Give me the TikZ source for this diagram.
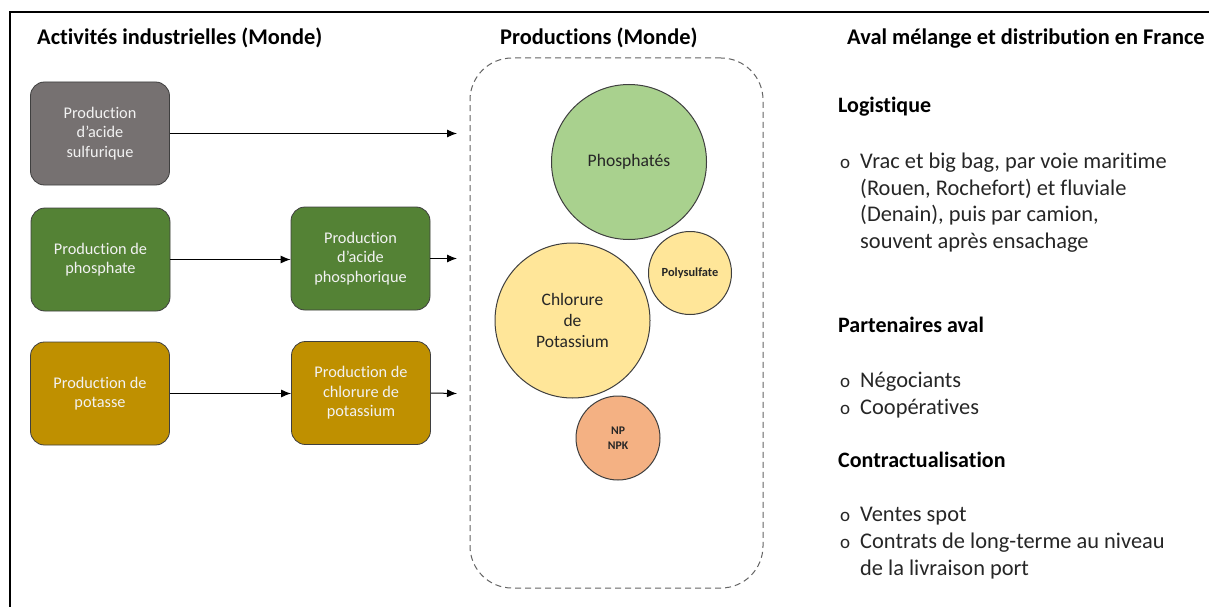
\documentclass[tikz,border=0pt]{standalone}
\usepackage{fontspec}
\setmainfont{Carlito}[Ligatures=NoCommon]
\usetikzlibrary{arrows.meta}
\definecolor{boxgray}{HTML}{767171}
\definecolor{boxgreen}{HTML}{548235}
\definecolor{boxgold}{HTML}{BF9000}
\definecolor{cgreen}{HTML}{A9D18E}
\definecolor{cyellow}{HTML}{FFE699}
\definecolor{corange}{HTML}{F4B183}
\definecolor{outline}{HTML}{3F3F3F}
\definecolor{boxtext}{HTML}{F2F2F2}
\definecolor{bodytext}{HTML}{262626}
\tikzset{
  procbox/.style={rectangle, rounded corners=14pt, draw=outline, line width=0.8pt,
    minimum width=139pt, minimum height=103pt, inner sep=2pt, align=center,
    text=boxtext, font=\fontsize{16.3}{19.5}\selectfont},
  bubble/.style={circle, draw=outline, line width=1pt, inner sep=0pt, align=center, text=bodytext},
  flow/.style={-{Latex[length=10pt,width=8pt]}, line width=1pt, black},
  title/.style={anchor=base west, inner sep=0pt, font=\fontsize{22.4}{26}\selectfont\bfseries, text=black},
  heading/.style={anchor=base west, inner sep=0pt, font=\fontsize{22}{26}\selectfont\bfseries, text=black},
  body/.style={anchor=base west, inner sep=0pt, font=\fontsize{22.4}{27}\selectfont, text=bodytext},
  bullet/.style={anchor=base west, inner sep=0pt, font=\fontsize{19}{27}\selectfont, text=bodytext},
}
\begin{document}
\begin{tikzpicture}[x=1pt,y=-1pt]
\useasboundingbox (0,0) rectangle (1209,607);
\fill[white] (0,0) rectangle (1209,607);
% frame
\draw[line width=2pt] (1209,12) -- (10,12) -- (10,607);

% titles
\node[title] (t1) at (37,45) {Activités industrielles (Monde)};
\node[title] (t2) at (500,45) {Productions (Monde)};
\node[title] (t3) at (847,45) {Aval mélange et distribution en France};

% process boxes
\node[procbox, fill=boxgray] (sulf) at (100,133.5) {Production\\d’acide\\sulfurique};
\node[procbox, fill=boxgreen] (phos) at (100.5,259.5) {Production de\\phosphate};
\node[procbox, fill=boxgreen] (acide) at (360.5,258.5) {Production\\d’acide\\phosphorique};
\node[procbox, fill=boxgold] (pot) at (100,393.5) {Production de\\potasse};
\node[procbox, fill=boxgold] (chlor) at (361,393) {Production de\\chlorure de\\potassium};

% arrow ends
\coordinate (e1) at (457,133.5);
\coordinate (e2) at (457,258.5);
\coordinate (e3) at (457,393.5);
\draw[flow] (sulf.east) -- (e1);
\draw[flow] (phos.east) -- (acide.west |- phos.east);
\draw[flow] (acide.east) -- (e2);
\draw[flow] (pot.east) -- (chlor.west |- pot.east);
\draw[flow] (chlor.east) -- (e3);

% dashed container
\node[draw=outline!80, dashed, dash pattern=on 6pt off 4pt, line width=1pt,
  rounded corners=42pt, minimum width=293pt, minimum height=530pt] (prod) at (616.5,323) {};

% bubbles
\node[bubble, fill=cgreen, minimum size=155pt, font=\fontsize{17.6}{21}\selectfont] (phosb) at (629,162) {Phosphatés};
\node[bubble, fill=cyellow, minimum size=83pt, font=\fontsize{12.4}{14}\selectfont\bfseries] (poly) at (690,273) {Polysulfate};
\node[bubble, fill=cyellow, minimum size=155pt, font=\fontsize{17.5}{21}\selectfont] (kcl) at (572.5,320.5) {Chlorure\\de\\Potassium};
\node[bubble, fill=corange, minimum size=84pt, font=\fontsize{11.7}{15}\selectfont\bfseries] (npk) at (618,438) {NP\\NPK};

% right column
\node[heading] (h1) at (838,113) {Logistique};
\node[bullet] (b1) at (840,168) {o};
\node[body] (l1a) at (860,168) {Vrac et big bag, par voie maritime};
\node[body] (l1b) at (860,195) {(Rouen, Rochefort) et fluviale};
\node[body] (l1c) at (860,221.5) {(Denain), puis par camion,};
\node[body] (l1d) at (860,248) {souvent après ensachage};

\node[heading] (h2) at (838,332) {Partenaires aval};
\node[bullet] (b2) at (840,387) {o};
\node[body] (l2a) at (860,387) {Négociants};
\node[bullet] (b3) at (840,414) {o};
\node[body] (l2b) at (860,414) {Coopératives};

\node[heading] (h3) at (838,467) {Contractualisation};
\node[bullet] (b4) at (840,521) {o};
\node[body] (l3a) at (860,521) {Ventes spot};
\node[bullet] (b5) at (840,548) {o};
\node[body] (l3b) at (860,548) {Contrats de long-terme au niveau};
\node[body] (l3c) at (860,575) {de la livraison port};
\end{tikzpicture}
\end{document}
